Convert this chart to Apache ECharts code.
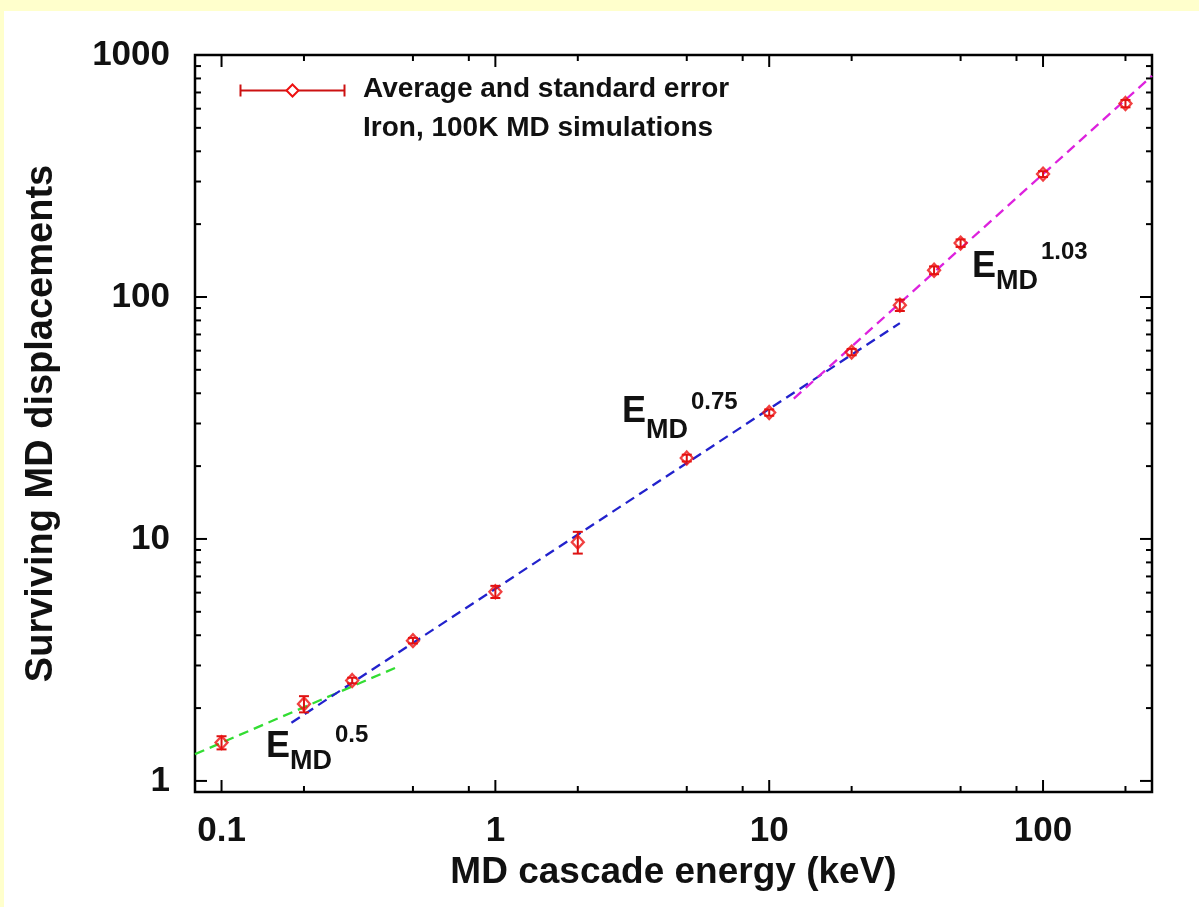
<!DOCTYPE html>
<html>
<head>
<meta charset="utf-8">
<script src="https://cdn.jsdelivr.net/npm/echarts@6/dist/echarts.min.js"></script>
<style>
html,body{margin:0;padding:0;background:#ffffff;}
#c{width:1199px;height:907px;}
</style>
</head>
<body>
<div id="c"></div>
<script>
// ---- data ----
const energy        = [0.1, 0.2, 0.3, 0.5, 1, 2, 5, 10, 20, 30, 40, 50, 100, 200];
const displacements = [1.44, 2.08, 2.60, 3.80, 6.05, 9.7, 21.6, 33.3, 59.2, 92.5, 129, 167, 322, 630];
const stdError      = [0.09, 0.16, 0.07, 0.10, 0.35, 1.0, 0.7, 1.0, 1.8, 5.0, 4.8, 6.0, 9, 22];

const fitLow  = [[0.08, 1.29], [0.43, 2.93]];   // E_MD^0.5  (green)
const fitMid  = [[0.18, 1.74], [30, 78]];       // E_MD^0.75 (blue)
const fitHigh = [[12.3, 38], [250, 820]];       // E_MD^1.03 (magenta)

const xTicksMajor = [0.1, 1, 10, 100];
const xTicksMinor = [0.2, 0.5, 0.8, 2, 5, 8, 20, 50, 80, 200];
const yTicksMajor = [1, 10, 100, 1000];
const yTicksMinor = [2, 3, 4, 5, 6, 7, 8, 9, 20, 30, 40, 50, 60, 70, 80, 90, 200, 300, 400, 500, 600, 700, 800, 900];

const xTitle = 'MD cascade energy (keV)';
const yTitle = 'Surviving MD displacements';
const legendLines = ['Average and standard error', 'Iron, 100K MD simulations'];

// ---- chart ----
const XMIN = 0.08, XMAX = 250, YMIN = 0.9, YMAX = 1000;
const FONT = '"Liberation Sans", Arial, Helvetica, sans-serif';
const RED = '#ee1111';
const TXT = '#111111';

const tickData = [];
xTicksMajor.forEach(v => tickData.push([v, YMIN, 0, 1]));
xTicksMinor.forEach(v => tickData.push([v, YMIN, 0, 0]));
yTicksMajor.forEach(v => tickData.push([XMIN, v, 1, 1]));
yTicksMinor.forEach(v => tickData.push([XMIN, v, 1, 0]));

const errData = energy.map((e, i) => [e, displacements[i], displacements[i] - stdError[i], displacements[i] + stdError[i]]);
const pointData = energy.map((e, i) => [e, displacements[i]]);

function renderTicks(params, api) {
  const kind = api.value(2), major = api.value(3);
  const len = major ? 12 : 6;
  const st = {stroke: '#000', lineWidth: 2};
  if (kind === 0) {
    const v = api.value(0);
    const b = api.coord([v, YMIN]), t = api.coord([v, YMAX]);
    return {type: 'group', children: [
      {type: 'line', shape: {x1: b[0], y1: b[1], x2: b[0], y2: b[1] - len}, style: st},
      {type: 'line', shape: {x1: t[0], y1: t[1], x2: t[0], y2: t[1] + len}, style: st}
    ]};
  } else {
    const v = api.value(1);
    const l = api.coord([XMIN, v]), r = api.coord([XMAX, v]);
    return {type: 'group', children: [
      {type: 'line', shape: {x1: l[0], y1: l[1], x2: l[0] + len, y2: l[1]}, style: st},
      {type: 'line', shape: {x1: r[0], y1: r[1], x2: r[0] - len, y2: r[1]}, style: st}
    ]};
  }
}

function renderErr(params, api) {
  const x = api.value(0);
  const lo = api.coord([x, api.value(2)]);
  const hi = api.coord([x, api.value(3)]);
  const w = 5;
  const st = {stroke: '#dd1111', lineWidth: 2};
  return {type: 'group', children: [
    {type: 'line', shape: {x1: lo[0], y1: lo[1], x2: hi[0], y2: hi[1]}, style: st},
    {type: 'line', shape: {x1: lo[0] - w, y1: lo[1], x2: lo[0] + w, y2: lo[1]}, style: st},
    {type: 'line', shape: {x1: hi[0] - w, y1: hi[1], x2: hi[0] + w, y2: hi[1]}, style: st}
  ]};
}

function powLabel(v) {
  const l = Math.log10(v);
  return Math.abs(l - Math.round(l)) < 1e-6 ? String(+v.toPrecision(6)) : '';
}

function annot(x, yE, yMD, yP, power) {
  return [
    {type: 'text', left: x, top: yE - 16, z: 50, style: {text: 'E', font: 'bold 36px ' + FONT, fill: TXT}},
    {type: 'text', left: x + 24, top: yMD - 11, z: 50, style: {text: 'MD', font: 'bold 27px ' + FONT, fill: TXT}},
    {type: 'text', left: x + 69, top: yP - 9, z: 50, style: {text: power, font: 'bold 24px ' + FONT, fill: TXT}}
  ];
}

const chart = echarts.init(document.getElementById('c'), null, {renderer: 'canvas'});

const option = {
  backgroundColor: '#ffffff',
  animation: false,
  grid: {left: 195, right: 47, top: 55, bottom: 115, show: true, borderColor: '#000', borderWidth: 2.5, backgroundColor: 'transparent'},
  xAxis: {
    type: 'log', logBase: 10, min: XMIN, max: XMAX,
    axisLine: {show: false}, axisTick: {show: false}, splitLine: {show: false}, minorTick: {show: false},
    axisLabel: {formatter: powLabel, fontSize: 35, fontWeight: 'bold', fontFamily: FONT, color: TXT, margin: 22, showMinLabel: false, showMaxLabel: false},
    name: xTitle, nameLocation: 'middle', nameGap: 60,
    nameTextStyle: {fontSize: 37, fontWeight: 'bold', fontFamily: FONT, color: TXT}
  },
  yAxis: {
    type: 'log', logBase: 10, min: YMIN, max: YMAX,
    axisLine: {show: false}, axisTick: {show: false}, splitLine: {show: false}, minorTick: {show: false},
    axisLabel: {formatter: powLabel, fontSize: 35, fontWeight: 'bold', fontFamily: FONT, color: TXT, margin: 25, showMinLabel: false},
    name: yTitle, nameLocation: 'middle', nameGap: 134,
    nameTextStyle: {fontSize: 38, fontWeight: 'bold', fontFamily: FONT, color: TXT}
  },
  series: [
    {type: 'custom', name: 'ticks', renderItem: renderTicks, data: tickData, clip: false, silent: true, z: 5},
    {type: 'line', name: 'fit05', data: fitLow, showSymbol: false, lineStyle: {color: '#33dd33', width: 2.3, type: [10, 6]}, z: 3},
    {type: 'line', name: 'fit075', data: fitMid, showSymbol: false, lineStyle: {color: '#2222cc', width: 2.3, type: [10, 6]}, z: 3},
    {type: 'line', name: 'fit103', data: fitHigh, showSymbol: false, lineStyle: {color: '#dd22dd', width: 2.3, type: [10, 6]}, z: 3},
    {type: 'custom', name: 'err', renderItem: renderErr, data: errData, clip: false, z: 4},
    {type: 'scatter', name: 'avg', data: pointData, symbol: 'diamond', symbolSize: [12, 13],
     itemStyle: {color: 'rgba(255,255,255,0)', borderColor: RED, borderWidth: 2.3}, z: 6}
  ],
  graphic: [
    {type: 'rect', left: 0, top: 0, shape: {width: 1199, height: 11}, style: {fill: '#ffffcc'}, z: 100},
    {type: 'rect', left: 0, top: 0, shape: {width: 4, height: 907}, style: {fill: '#ffffcc'}, z: 100},
    // legend
    {type: 'group', left: 238, top: 82, z: 50, children: [
      {type: 'line', shape: {x1: 0, y1: 6, x2: 104, y2: 6}, style: {stroke: '#cc1111', lineWidth: 2}},
      {type: 'line', shape: {x1: 0, y1: 0, x2: 0, y2: 12}, style: {stroke: '#cc1111', lineWidth: 2}},
      {type: 'line', shape: {x1: 104, y1: 0, x2: 104, y2: 12}, style: {stroke: '#cc1111', lineWidth: 2}},
      {type: 'polygon', shape: {points: [[52, 0], [58, 6], [52, 12], [46, 6]]}, style: {fill: '#ffffff', stroke: RED, lineWidth: 2}}
    ]},
    {type: 'text', left: 363, top: 75, z: 50, style: {text: legendLines[0], font: 'bold 28px ' + FONT, fill: TXT}},
    {type: 'text', left: 363, top: 114, z: 50, style: {text: legendLines[1], font: 'bold 28px ' + FONT, fill: TXT}}
  ].concat(annot(266, 745, 759, 732, '0.5'), annot(622, 410, 428, 399, '0.75'), annot(972, 265, 279, 249, '1.03'))
};

chart.setOption(option);
</script>
</body>
</html>
